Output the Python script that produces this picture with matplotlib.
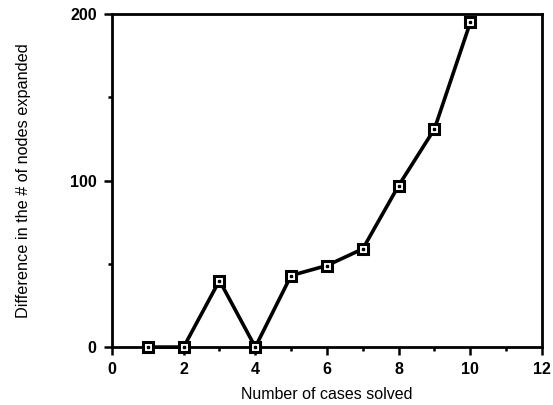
import matplotlib
matplotlib.use("Agg")
import matplotlib.pyplot as plt
from matplotlib.ticker import MultipleLocator

# data
cases = [1, 2, 3, 4, 5, 6, 7, 8, 9, 10]
node_diff = [0, 0, 40, 0, 43, 49, 59, 97, 131, 195]

plt.rcParams['font.family'] = ['Liberation Sans', 'DejaVu Sans']

fig = plt.figure(figsize=(5.53, 4.05), dpi=100)
ax = fig.add_axes([0.2025, 0.143, 0.7775, 0.822])

ax.plot(cases, node_diff, color='black', lw=2.6, marker='s', ms=7,
        mfc='white', mec='black', mew=2.2, clip_on=False, zorder=3)
# the little dot inside each square marker
ax.plot(cases, node_diff, ls='none', marker='s', ms=1.5, color='black',
        clip_on=False, zorder=4)

ax.set_xlim(0, 12)
ax.set_ylim(0, 200)
ax.xaxis.set_major_locator(MultipleLocator(2))
ax.xaxis.set_minor_locator(MultipleLocator(1))
ax.yaxis.set_major_locator(MultipleLocator(100))
ax.yaxis.set_minor_locator(MultipleLocator(50))
ax.tick_params(which='major', direction='out', length=6, width=1.8,
               labelsize=11.5, pad=5)
ax.tick_params(which='minor', direction='out', length=3, width=1.8)
for lbl in ax.get_xticklabels() + ax.get_yticklabels():
    lbl.set_fontweight('bold')

for s in ax.spines.values():
    s.set_linewidth(2)

ax.set_xlabel('Number of cases solved', fontsize=11.5, labelpad=7)
ax.set_ylabel('Difference in the # of nodes expanded', fontsize=11.7, labelpad=28)

fig.savefig('out.png', dpi=100)
